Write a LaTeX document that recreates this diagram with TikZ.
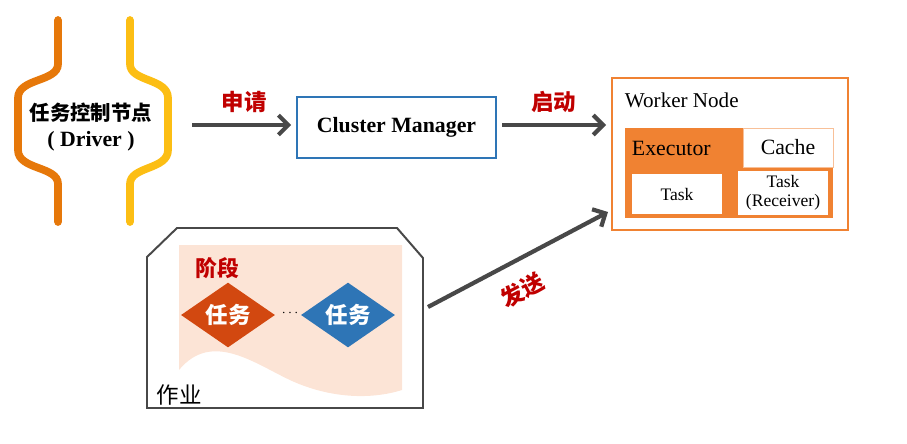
\documentclass[tikz,border=0pt]{standalone}
\usepackage{fontspec}
\setmainfont{Liberation Serif}
\newfontfamily\cjk{Noto Sans CJK SC}
\usetikzlibrary{arrows.meta,shapes.geometric}
\definecolor{bracketorange}{RGB}{230, 120, 10}
\definecolor{bracketyellow}{RGB}{252, 190, 20}
\definecolor{arrowgray}{RGB}{72, 72, 72}
\definecolor{labelred}{RGB}{192, 0, 0}
\definecolor{cmblue}{RGB}{46, 117, 182}
\definecolor{workerorange}{RGB}{240, 130, 50}
\definecolor{stagepink}{RGB}{252, 228, 214}
\definecolor{taskred}{RGB}{210, 72, 16}

\tikzset{
    flow/.style={arrowgray, line width=3pt, -{Straight Barb[length=7pt,width=14pt,line width=3pt]}},
    flowlabel/.style={labelred, font=\cjk\bfseries\fontsize{16}{18}\selectfont},
    whitebox/.style={draw=workerorange!50, line width=0.5pt, fill=white, minimum width=2.25cm},
    taskgem/.style={diamond, aspect=1.45, inner sep=0pt, minimum width=2.35cm, minimum height=1.62cm,
                    text=white, font=\cjk\bfseries\fontsize{16}{18}\selectfont}
}

\begin{document}
\begin{tikzpicture}[x=0.025cm, y=-0.025cm]
            \useasboundingbox (0,0) rectangle (907,443);
            % Driver brackets
            \draw[bracketorange, line width=5.5pt, line cap=round] (58,20) -- (58,64) .. controls (58,82) and (18,78) .. (18,98)
                 -- (18,150) .. controls (18,170) and (58,166) .. (58,184) -- (58,222);
            \draw[bracketyellow, line width=5.5pt, line cap=round] (130,20) -- (130,64) .. controls (130,82) and (168,78) .. (168,98)
                 -- (168,150) .. controls (168,170) and (130,166) .. (130,184) -- (130,222);
            \node[font=\cjk\bfseries\fontsize{14.5}{16}\selectfont] (driver) at (91,113) {任务控制节点};
            \node[font=\bfseries\fontsize{15.5}{17}\selectfont] (drivername) at (91,141) {( Driver )};
            \coordinate (drvout) at (192,125);
            % Cluster Manager
            \node[draw=cmblue, line width=1.3pt, minimum width=4.97cm, minimum height=1.52cm,
                  font=\bfseries\fontsize{15.5}{18}\selectfont] (cm) at (396.5,127.5) {Cluster Manager};
            % Worker Node
            \node[draw=workerorange, line width=1.3pt, minimum width=5.9cm, minimum height=3.8cm] (worker) at (730,154) {};
            \node[anchor=west, font=\fontsize{15}{17}\selectfont] (workername) at (620,100) {Worker Node};
            \node[fill=workerorange, minimum width=5.2cm, minimum height=2.25cm] (executor) at (729,173) {};
            \node[anchor=west, font=\fontsize{15.5}{17}\selectfont] (executorname) at (627,148) {Executor};
            \node[whitebox, minimum height=0.97cm, font=\fontsize{15.5}{17}\selectfont] (cache) at (788,147.5) {Cache};
            \node[whitebox, draw=none, minimum height=1cm, font=\fontsize{12.5}{14}\selectfont] (task) at (677,194) {Task};
            \node[whitebox, draw=none, minimum height=1cm, align=center, font=\fontsize{12.5}{13.5}\selectfont] (taskrcv) at (783,193) {Task\\(Receiver)};
            % Job with one stage
            \fill[stagepink] (179,245) -- (402,245) -- (402,390) .. controls (370,400) and (330,398) .. (292,381)
                 .. controls (255,364) and (212,330) .. (179,370) -- cycle;
            \draw[arrowgray, line width=1.4pt] (147,408) -- (147,257) -- (177,228) -- (397,228) -- (423,258) -- (423,408) -- cycle;
            \node[flowlabel, font=\cjk\bfseries\fontsize{15.5}{17}\selectfont] (stage) at (217,268) {阶段};
            \node[taskgem, fill=taskred] (taskA) at (228,315) {任务};
            \node[taskgem, fill=cmblue] (taskB) at (348,315) {任务};
            \node (dots) at (290,313) {$\cdots$};
            \node[font=\cjk\fontsize{16}{18}\selectfont] (job) at (179,395) {作业};
            \coordinate (jobout) at (428,307);
            \coordinate (workerin) at (608,212);
            % Connectors
            \draw[flow, shorten >=3.5pt] (drvout) -- (cm.west |- drvout) node[flowlabel, midway, above=4pt] {申请};
            \draw[flow, shorten <=4pt, shorten >=3.5pt] (cm.east |- drvout) -- (worker.west |- drvout) node[flowlabel, midway, above=4pt] {启动};
            \draw[flow] (jobout) -- (workerin);
            \node[flowlabel, rotate=28] (sendlabel) at (522,290) {发送};
\end{tikzpicture}
\end{document}
